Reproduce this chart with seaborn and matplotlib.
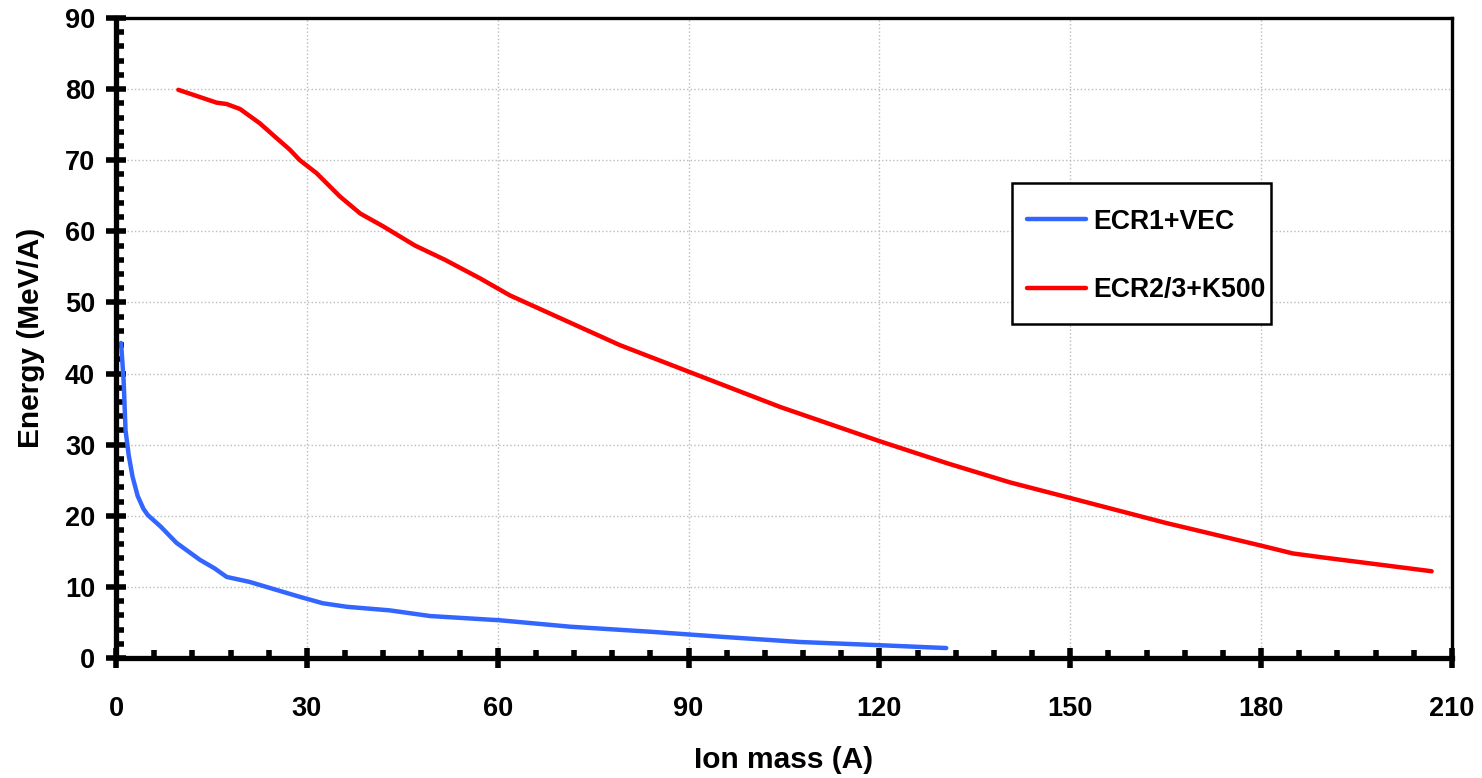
import matplotlib
matplotlib.use("Agg")
import matplotlib.pyplot as plt
from matplotlib.ticker import MultipleLocator
from matplotlib.patches import Rectangle
import seaborn as sns
import pandas as pd

sns.set_theme(style="white")
plt.rcParams['font.family'] = ['Liberation Sans', 'DejaVu Sans']
plt.rcParams['font.weight'] = 'bold'
for k in ["text.color", "axes.labelcolor", "xtick.color", "ytick.color"]:
    plt.rcParams[k] = "black"

# ECR1+VEC
vec_mass = [0.8, 1.2, 1.5, 2.0, 2.6, 3.4, 4.3, 5.0, 7.0, 9.5, 13.2, 15.5, 17.4, 21.0, 24.0, 28.9,
            32.5, 36.3, 43.0, 49.4, 60.4, 71.4, 83.9, 94.9, 107.5, 120.0, 130.5]
vec_energy = [44.3, 39.0, 32.0, 28.5, 25.5, 22.8, 21.0, 20.1, 18.5, 16.2, 13.8, 12.6, 11.4, 10.7, 9.9, 8.6,
              7.7, 7.2, 6.7, 5.9, 5.3, 4.4, 3.7, 3.0, 2.25, 1.8, 1.4]

# ECR2/3+K500
k500_mass = [9.8, 15.8, 17.4, 19.5, 22.6, 25.0, 27.3, 28.9, 31.5, 35.2, 38.4, 42.0, 47.0, 51.7, 57.2, 61.9,
             69.8, 79.2, 90.2, 104.4, 120.0, 130.6, 140.5, 150.0, 165.0, 180.0, 185.0, 189.2, 206.8]
k500_energy = [79.9, 78.1, 77.9, 77.2, 75.2, 73.3, 71.5, 70.0, 68.2, 64.9, 62.5, 60.7, 58.0, 56.0, 53.4, 51.0,
               47.8, 44.0, 40.2, 35.3, 30.5, 27.4, 24.7, 22.5, 19.0, 15.8, 14.7, 14.2, 12.2]

series_names = ["ECR1+VEC", "ECR2/3+K500"]
x_ticks = [0, 30, 60, 90, 120, 150, 180, 210]
y_ticks = [0, 10, 20, 30, 40, 50, 60, 70, 80, 90]

df = pd.concat([
    pd.DataFrame({"mass": vec_mass, "energy": vec_energy, "series": series_names[0]}),
    pd.DataFrame({"mass": k500_mass, "energy": k500_energy, "series": series_names[1]}),
])

W, H = 1482, 778
fig = plt.figure(figsize=(W / 100, H / 100), dpi=100)
ax = fig.add_axes([116 / W, 1 - 658 / H, (1452 - 116) / W, (658 - 18) / H])

sns.lineplot(data=df, x="mass", y="energy", hue="series", sort=False, estimator=None,
             palette={series_names[0]: "#3366FF", series_names[1]: "#FF0000"},
             linewidth=3.2, ax=ax, legend=True)

ax.set_xlim(0, 210)
ax.set_ylim(0, 90)
ax.set_autoscale_on(False)
ax.set_xticks(x_ticks)
ax.set_yticks(y_ticks)
ax.xaxis.set_minor_locator(MultipleLocator(6))
ax.yaxis.set_minor_locator(MultipleLocator(2))
ax.grid(True, which="major", color="#BBBBBB", linestyle=":", linewidth=1.0)
ax.set_axisbelow(True)

for s in ["left", "bottom"]:
    ax.spines[s].set_linewidth(3.8)
    ax.spines[s].set_color("black")
    ax.spines[s].set_zorder(5)
for s in ["top", "right"]:
    ax.spines[s].set_linewidth(2.4)
    ax.spines[s].set_color("black")
    ax.spines[s].set_visible(True)

ax.tick_params(axis="both", which="major", direction="inout", length=14, width=4,
               color="black", labelsize=19.5, pad=8, bottom=True, left=True, top=False, right=False)
ax.tick_params(axis="both", which="minor", direction="in", length=6, width=4,
               color="black", bottom=True, left=True, top=False, right=False)
ax.tick_params(axis="x", which="major", pad=20)
for lab in ax.get_xticklabels() + ax.get_yticklabels():
    lab.set_fontweight("bold")

ax.set_xlabel("Ion mass (A)", fontsize=21.5, fontweight="bold", labelpad=18)
ax.set_ylabel("Energy (MeV/A)", fontsize=21.5, fontweight="bold", labelpad=14)

# legend box
box = Rectangle((1012 / W, 1 - 324 / H), (1271 - 1012) / W, (324 - 183) / H,
                transform=fig.transFigure, fill=True, facecolor="white",
                edgecolor="black", linewidth=1.8, zorder=3)
box.set_clip_on(False)
ax.add_artist(box)
leg = ax.legend(loc="center left", bbox_to_anchor=(1027 / W, 1 - 256 / H),
                bbox_transform=fig.transFigure,
                frameon=False, prop={"weight": "bold", "size": 19.2},
                borderpad=0, labelspacing=1.6, handlelength=2.2, handletextpad=0.28,
                borderaxespad=0)
leg.set_zorder(10)
for line in leg.get_lines():
    line.set_linewidth(3.2)

fig.savefig("out.png", dpi=100)
